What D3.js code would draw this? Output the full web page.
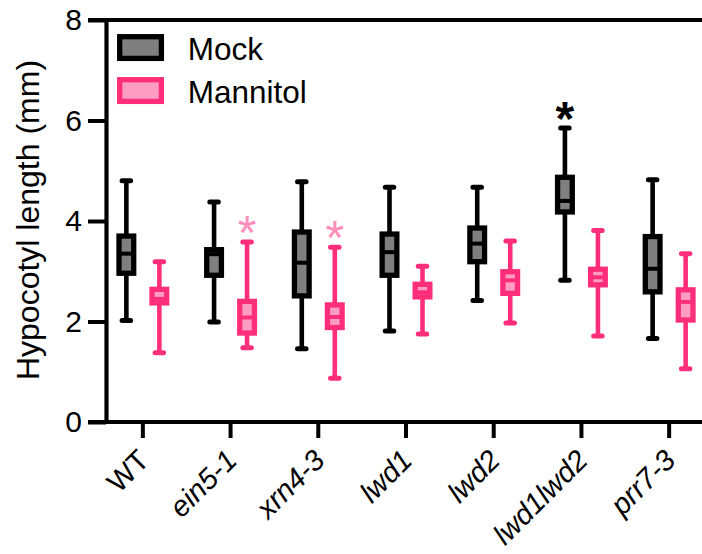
<!DOCTYPE html>
<html>
<head>
<meta charset="utf-8">
<script src="https://cdn.jsdelivr.net/npm/d3@7"></script>
<style>
  body { margin: 0; background: #fff; }
  svg { display: block; font-family: "Liberation Sans", Arial, sans-serif; }
</style>
</head>
<body>
<div id="chart"></div>
<script>
// Data (mm)
const genotypes = ["WT", "ein5-1", "xrn4-3", "lwd1", "lwd2", "lwd1lwd2", "prr7-3"];
const italicLabel = [false, true, true, true, true, true, true];
const treatments = ["Mock", "Mannitol"];

const mockMin = [2.02, 1.99, 1.46, 1.81, 2.42, 2.82, 1.66];
const mockQ1  = [2.96, 2.92, 2.51, 2.92, 3.19, 4.18, 2.59];
const mockMed = [3.35, 3.34, 3.17, 3.38, 3.55, 4.40, 3.05];
const mockQ3  = [3.70, 3.43, 3.78, 3.74, 3.86, 4.87, 3.69];
const mockMax = [4.80, 4.38, 4.78, 4.67, 4.67, 5.85, 4.82];

const mannMin = [1.38, 1.48, 0.87, 1.75, 1.97, 1.71, 1.06];
const mannQ1  = [2.37, 1.77, 1.88, 2.49, 2.56, 2.73, 2.03];
const mannMed = [2.45, 2.08, 2.09, 2.58, 2.82, 2.88, 2.39];
const mannQ3  = [2.64, 2.40, 2.33, 2.74, 2.99, 3.04, 2.63];
const mannMax = [3.19, 3.58, 3.48, 3.10, 3.60, 3.81, 3.35];

// significance marks: [genotype, treatment]
const starred = [["ein5-1", "Mannitol"], ["xrn4-3", "Mannitol"], ["lwd1lwd2", "Mock"]];

const yTicks = [0, 2, 4, 6, 8];

const colors = {
    Mock:     { stroke: "#000000", fill: "#7f7f7f", star: "#000000" },
    Mannitol: { stroke: "#ff2e7a", fill: "#ff9cc2", star: "#ff8fba" }
};

// build rows
const rows = [];
genotypes.forEach((g, i) => {
    rows.push({ g, t: "Mock", min: mockMin[i], q1: mockQ1[i], med: mockMed[i], q3: mockQ3[i], max: mockMax[i] });
    rows.push({ g, t: "Mannitol", min: mannMin[i], q1: mannQ1[i], med: mannMed[i], q3: mannQ3[i], max: mannMax[i] });
});

const W = 702, H = 554;
const axisX = 106, axisTop = 20, axisBottom = 422;

const svg = d3.select("#chart").append("svg")
    .attr("width", W)
    .attr("height", H);

const y = d3.scaleLinear().domain([0, 8]).range([axisBottom, axisTop]);
const x = d3.scaleBand().domain(genotypes).range([99, 713]).padding(0);
const xSub = d3.scaleBand().domain(treatments).range([-33, 33]);

const cx = d => x(d.g) + x.bandwidth() / 2 + xSub(d.t) + xSub.bandwidth() / 2;

const boxW = 14.7, capW = 8.5;

// top frame line
svg.append("line")
    .attr("x1", 88).attr("x2", W)
    .attr("y1", y(8)).attr("y2", y(8))
    .attr("stroke", "#000").attr("stroke-width", 4);

// y axis
const yAxis = svg.append("g")
    .attr("transform", `translate(${axisX},0)`)
    .call(d3.axisLeft(y).tickValues(yTicks).tickSize(18).tickPadding(6).tickSizeOuter(0));
yAxis.select(".domain").attr("stroke-width", 4.2);
yAxis.selectAll(".tick line").attr("stroke-width", 4);
yAxis.selectAll(".tick text")
    .attr("font-size", 30)
    .attr("font-family", "Liberation Sans, Arial, sans-serif")
    .attr("fill", "#000");

// x axis
const xAxis = svg.append("g")
    .attr("transform", `translate(0,${axisBottom})`)
    .call(d3.axisBottom(x).tickSize(16).tickSizeOuter(0));
xAxis.select(".domain").remove();
xAxis.append("line")
    .attr("x1", 88).attr("x2", W)
    .attr("stroke", "#000").attr("stroke-width", 4);
xAxis.selectAll(".tick line").attr("stroke-width", 4);
xAxis.selectAll(".tick text")
    .attr("font-size", 29)
    .attr("font-family", "Liberation Sans, Arial, sans-serif")
    .attr("fill", "#000")
    .attr("font-style", (d, i) => italicLabel[i] ? "italic" : "normal")
    .attr("text-anchor", "end")
    .attr("y", 0)
    .attr("dy", 0)
    .attr("transform", "translate(8,40) rotate(-45)");

// y axis title
svg.append("text")
    .attr("transform", "translate(38.5,220) rotate(-90)")
    .attr("text-anchor", "middle")
    .attr("font-size", 32)
    .text("Hypocotyl length (mm)");

// boxes
const box = svg.selectAll(".box")
    .data(rows)
  .enter().append("g")
    .attr("class", "box");

box.append("line")
    .attr("x1", cx).attr("x2", cx)
    .attr("y1", d => y(d.min)).attr("y2", d => y(d.max))
    .attr("stroke", d => colors[d.t].stroke)
    .attr("stroke-width", 4.6);

box.selectAll(".cap")
    .data(d => [{ d, v: d.min }, { d, v: d.max }])
  .enter().append("line")
    .attr("class", "cap")
    .attr("x1", e => cx(e.d) - capW / 2).attr("x2", e => cx(e.d) + capW / 2)
    .attr("y1", e => y(e.v)).attr("y2", e => y(e.v))
    .attr("stroke", e => colors[e.d.t].stroke)
    .attr("stroke-width", 5)
    .attr("stroke-linecap", "round");

box.append("rect")
    .attr("x", d => cx(d) - boxW / 2)
    .attr("width", boxW)
    .attr("y", d => y(d.q3))
    .attr("height", d => y(d.q1) - y(d.q3))
    .attr("fill", d => colors[d.t].fill)
    .attr("stroke", d => colors[d.t].stroke)
    .attr("stroke-width", 5.3);

box.append("line")
    .attr("x1", d => cx(d) - boxW / 2).attr("x2", d => cx(d) + boxW / 2)
    .attr("y1", d => y(d.med)).attr("y2", d => y(d.med))
    .attr("stroke", d => colors[d.t].stroke)
    .attr("stroke-width", 4);

// asterisks
svg.selectAll(".star")
    .data(starred.map(([g, t]) => rows.find(r => r.g === g && r.t === t)))
  .enter().append("text")
    .attr("class", "star")
    .attr("x", cx)
    .attr("y", d => y(d.max) - 21 + 28)
    .attr("text-anchor", "middle")
    .attr("font-size", 48)
    .attr("font-weight", d => d.t === "Mock" ? "bold" : "normal")
    .attr("fill", d => colors[d.t].star)
    .text("*");

// legend
const legend = svg.selectAll(".legend")
    .data(treatments)
  .enter().append("g")
    .attr("class", "legend")
    .attr("transform", (d, i) => `translate(119.7,${36.7 + i * 43})`);

legend.append("rect")
    .attr("width", 41.7)
    .attr("height", 21.7)
    .attr("fill", d => colors[d].fill)
    .attr("stroke", d => colors[d].stroke)
    .attr("stroke-width", 5.3);

legend.append("text")
    .attr("x", 68)
    .attr("y", 23)
    .attr("font-size", 31.5)
    .text(d => d);
</script>
</body>
</html>
